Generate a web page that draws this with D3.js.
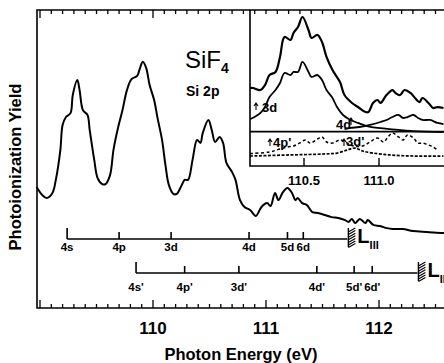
<!DOCTYPE html>
<html>
<head>
<meta charset="utf-8">
<script src="https://cdn.jsdelivr.net/npm/d3@7"></script>
<style>
  body { margin: 0; background: #fff; }
  svg { display: block; }
  text { font-family: 'Liberation Sans', Arial, sans-serif; fill: #000; }
</style>
</head>
<body>
<div id="chart"></div>
<script>
// main spectrum (photon energy in eV, yield in arb. units)
const mainEnergy = [108.97, 109.02, 109.06, 109.11, 109.14, 109.18, 109.20, 109.23, 109.27, 109.29, 109.33, 109.35,
  109.38, 109.42, 109.44, 109.48, 109.51, 109.55, 109.58, 109.62, 109.65, 109.69, 109.73, 109.77, 109.81, 109.86,
  109.88, 109.91, 109.94, 109.97, 110.01, 110.04, 110.08, 110.11, 110.14, 110.18, 110.21, 110.25, 110.28, 110.31,
  110.35, 110.39, 110.42, 110.44, 110.49, 110.52, 110.55, 110.59, 110.62, 110.65, 110.70, 110.73, 110.77, 110.81,
  110.86, 110.91, 110.96, 111.01, 111.04, 111.08, 111.11, 111.15, 111.19, 111.23, 111.26, 111.28, 111.32, 111.36,
  111.41, 111.46, 111.52, 111.58, 111.64, 111.70, 111.73, 111.76, 111.79, 111.83, 111.88, 111.90, 111.95, 112.01,
  112.07, 112.12, 112.21, 112.30, 112.42, 112.56, 112.62];
const mainYield = [40.6, 37.9, 36.9, 38.6, 43.0, 53.0, 61.4, 64.1, 65.4, 71.5, 76.5, 73.2,
  66.4, 64.8, 59.7, 49.7, 43.6, 41.6, 41.6, 44.6, 53.0, 60.4, 66.4, 73.2, 76.8, 77.9,
  79.9, 82.6, 80.5, 74.8, 69.8, 63.8, 56.4, 48.0, 41.3, 38.3, 38.3, 40.9, 43.0, 43.0,
  49.7, 56.4, 55.4, 58.7, 63.1, 59.7, 55.7, 57.4, 55.4, 48.7, 45.6, 43.0, 36.2, 33.9,
  32.9, 30.9, 33.9, 35.2, 34.2, 38.6, 36.2, 38.9, 40.3, 38.6, 36.2, 36.9, 35.2, 34.6,
  32.2, 31.9, 31.2, 30.5, 30.2, 29.5, 28.9, 29.9, 28.5, 29.9, 28.5, 29.5, 27.9, 27.5,
  26.8, 26.5, 26.5, 25.8, 25.5, 25.2, 25.0];

// inset: total yield, 3d and 4d components, dashed curves
const insetTotalEnergy = [110.14, 110.16, 110.21, 110.24, 110.27, 110.31, 110.34, 110.37, 110.41, 110.43, 110.46,
  110.49, 110.53, 110.55, 110.59, 110.62, 110.65, 110.69, 110.74, 110.77, 110.82, 110.86, 110.91, 110.93, 110.96,
  110.99, 111.01, 111.05, 111.09, 111.11, 111.14, 111.17, 111.21, 111.24, 111.27, 111.29, 111.33, 111.36, 111.39, 111.43];
const insetTotalYield = [50.0, 50.0, 48.7, 51.9, 58.3, 60.3, 69.9, 82.7, 80.8, 85.3, 89.1,
  95.5, 87.2, 82.1, 84.0, 79.5, 69.9, 61.5, 53.8, 45.5, 40.4, 37.8, 34.6, 34.6, 40.4,
  42.3, 40.4, 45.5, 48.7, 46.8, 45.5, 48.7, 46.8, 43.6, 41.0, 43.6, 40.4, 37.2, 37.8, 37.2];

const inset3dEnergy = [110.14, 110.17, 110.21, 110.24, 110.27, 110.31, 110.34, 110.37, 110.41, 110.43, 110.46,
  110.49, 110.53, 110.55, 110.59, 110.62, 110.65, 110.69, 110.72, 110.76, 110.81, 110.86, 110.92, 110.99, 111.07,
  111.23, 111.43];
const inset3dYield = [30.1, 31.4, 34.0, 37.8, 44.2, 48.7, 53.2, 59.6, 58.3, 60.3, 60.3,
  66.7, 60.3, 57.1, 58.3, 55.1, 48.7, 43.6, 37.8, 32.7, 29.5, 27.6, 25.6, 24.4, 23.7,
  22.4, 21.8];

const inset4dEnergy = [110.77, 110.81, 110.87, 110.94, 111.01, 111.05, 111.09, 111.13, 111.16, 111.19, 111.23,
  111.26, 111.29, 111.34, 111.39, 111.43];
const inset4dYield = [23.7, 24.4, 25.0, 26.3, 28.2, 29.5, 31.4, 32.7, 30.8, 31.4, 32.7,
  30.8, 29.5, 29.5, 27.6, 26.9];

const insetBaseline = 22.0;

const dashUpperEnergy = [110.14, 110.27, 110.34, 110.39, 110.43, 110.47, 110.51, 110.54, 110.59, 110.62, 110.65,
  110.69, 110.74, 110.79, 110.83, 110.89, 110.94, 110.99, 111.03, 111.06, 111.09, 111.13, 111.16, 111.19, 111.23,
  111.26, 111.29, 111.33, 111.36, 111.39];
const dashUpperYield = [8.0, 9.0, 10.9, 12.2, 12.8, 14.7, 16.7, 14.7, 17.3, 18.6, 15.4,
  14.7, 16.7, 14.7, 12.8, 12.8, 15.4, 17.9, 15.4, 18.6, 21.2, 18.6, 16.7, 19.9, 17.9,
  14.7, 14.7, 13.5, 12.2, 10.3];

const dashLowerEnergy = [110.14, 110.41, 110.63, 110.72, 110.79, 110.84, 110.89, 110.96, 111.07, 111.23, 111.43];
const dashLowerYield = [6.4, 7.1, 7.7, 8.3, 10.3, 11.5, 9.6, 8.3, 7.1, 6.4, 6.4];

// Rydberg series converging to L_III and L_II
const seriesIIILabels = ['4s', '4p', '3d', '4d', '5d', '6d'];
const seriesIIIEnergy = [109.24, 109.70, 110.16, 110.85, 111.19, 111.33];
const limitIII = 111.72;
const seriesIILabels = ["4s'", "4p'", "3d'", "4d'", "5d'", "6d'"];
const seriesIIEnergy = [109.85, 110.28, 110.76, 111.45, 111.78, 111.94];
const limitII = 112.34;

const mainTicks = [110, 111, 112];
const insetTicks = [110.5, 111.0];

const W = 444, H = 363;
const mLeft = 37, mTop = 10, mBottom = 308, mRight = 450;
const insetLeft = 250, insetBottom = 166;

const x = d3.scaleLinear().domain([110, 112]).range([153, 379]);
const y = d3.scaleLinear().domain([0, 100]).range([mBottom, mTop]);
const xi = d3.scaleLinear().domain([110.5, 111.0]).range([304, 379]);
const yi = d3.scaleLinear().domain([0, 100]).range([insetBottom, mTop]);

const svg = d3.select('#chart').append('svg')
  .attr('width', W)
  .attr('height', H);

// main frame
svg.append('path')
  .attr('d', `M${mRight},${mTop}H${mLeft}V${mBottom}H${mRight}`)
  .attr('fill', 'none')
  .attr('stroke', '#000')
  .attr('stroke-width', 1.6);

// minor/major ticks on top and bottom every 0.1 eV
const tickVals = d3.range(1090, 1127).map(v => v / 10);
tickVals.forEach(v => {
  const major = Math.abs(v - Math.round(v)) < 1e-6;
  const xp = x(v);
  if (xp < mLeft + 2) return;
  svg.append('line')
    .attr('x1', xp).attr('x2', xp)
    .attr('y1', mBottom).attr('y2', mBottom - (major ? 8 : 4))
    .attr('stroke', '#000').attr('stroke-width', 1.3);
  svg.append('line')
    .attr('x1', xp).attr('x2', xp)
    .attr('y1', mTop).attr('y2', mTop + (major ? 8 : 4))
    .attr('stroke', '#000').attr('stroke-width', 1.3);
});

svg.selectAll('.xlab')
  .data(mainTicks)
  .join('text')
  .attr('x', d => x(d))
  .attr('y', 334)
  .attr('text-anchor', 'middle')
  .attr('font-size', 17)
  .attr('font-weight', 'bold')
  .text(d => d);

svg.append('text')
  .attr('x', 241)
  .attr('y', 360)
  .attr('text-anchor', 'middle')
  .attr('font-size', 16.5)
  .attr('font-weight', 'bold')
  .text('Photon Energy (eV)');

svg.append('text')
  .attr('transform', 'translate(21,167) rotate(-90)')
  .attr('text-anchor', 'middle')
  .attr('font-size', 16.5)
  .attr('font-weight', 'bold')
  .text('Photoionization Yield');

// main curve
const mainLine = d3.line().x(d => x(d[0])).y(d => y(d[1])).curve(d3.curveCatmullRom.alpha(0.5));
svg.append('path')
  .datum(d3.zip(mainEnergy, mainYield))
  .attr('d', mainLine)
  .attr('fill', 'none')
  .attr('stroke', '#000')
  .attr('stroke-width', 2);

// titles
const title = svg.append('text')
  .attr('x', 185)
  .attr('y', 68)
  .attr('font-size', 24);
title.append('tspan').text('SiF');
title.append('tspan').attr('font-size', 14).attr('font-weight', 'bold').attr('dy', 5).text('4');

svg.append('text')
  .attr('x', 186)
  .attr('y', 96)
  .attr('font-size', 14)
  .attr('font-weight', 'bold')
  .text('Si 2p');

// Rydberg ladders
function ladder(lineY, energies, labels, limit, limitName, labelY) {
  const g = svg.append('g');
  g.append('line')
    .attr('x1', x(energies[0])).attr('x2', x(limit))
    .attr('y1', lineY).attr('y2', lineY)
    .attr('stroke', '#000').attr('stroke-width', 1.4);
  energies.forEach((e, i) => {
    g.append('line')
      .attr('x1', x(e)).attr('x2', x(e))
      .attr('y1', lineY).attr('y2', lineY - (i === 0 ? 11 : 7))
      .attr('stroke', '#000').attr('stroke-width', 1.6);
    g.append('text')
      .attr('x', x(e))
      .attr('y', labelY)
      .attr('text-anchor', 'middle')
      .attr('font-size', 11.5)
      .attr('font-weight', 'bold')
      .text(labels[i]);
  });
  // hatched series limit
  const lx = x(limit);
  g.append('line')
    .attr('x1', lx + 1).attr('x2', lx + 1)
    .attr('y1', lineY - 11).attr('y2', lineY + 8)
    .attr('stroke', '#000').attr('stroke-width', 1.4);
  for (let k = 0; k < 7; k++) {
    g.append('line')
      .attr('x1', lx + 1).attr('x2', lx + 8)
      .attr('y1', lineY - 7 + k * 2.6).attr('y2', lineY - 11 + k * 2.6)
      .attr('stroke', '#000').attr('stroke-width', 1.1);
  }
  const t = g.append('text')
    .attr('x', lx + 10)
    .attr('y', lineY + 4)
    .attr('font-size', 20)
    .attr('font-weight', 'bold');
  t.append('tspan').text('L');
  t.append('tspan').attr('font-size', 11).attr('dy', 6).text(limitName);
}
ladder(239, seriesIIIEnergy, seriesIIILabels, limitIII, 'III', 251);
ladder(273, seriesIIEnergy, seriesIILabels, limitII, 'II', 291);

// inset
const inset = svg.append('g');
inset.append('rect')
  .attr('x', insetLeft).attr('y', mTop + 1)
  .attr('width', mRight - insetLeft).attr('height', insetBottom - mTop - 1)
  .attr('fill', '#fff');
inset.append('path')
  .attr('d', `M${insetLeft},${mTop}V${insetBottom}H${mRight}`)
  .attr('fill', 'none')
  .attr('stroke', '#000')
  .attr('stroke-width', 1.6);
tickVals.forEach(v => {
  const xp = x(v);
  if (xp < insetLeft) return;
  inset.append('line')
    .attr('x1', xp).attr('x2', xp)
    .attr('y1', mTop).attr('y2', mTop + 4)
    .attr('stroke', '#000').attr('stroke-width', 1.3);
});
insetTicks.forEach(v => {
  inset.append('line')
    .attr('x1', xi(v)).attr('x2', xi(v))
    .attr('y1', insetBottom).attr('y2', insetBottom - 8)
    .attr('stroke', '#000').attr('stroke-width', 1.4);
  inset.append('text')
    .attr('x', xi(v))
    .attr('y', 185)
    .attr('text-anchor', 'middle')
    .attr('font-size', 13)
    .attr('font-weight', 'bold')
    .text(v.toFixed(1));
});

const insetLine = d3.line().x(d => xi(d[0])).y(d => yi(d[1])).curve(d3.curveCatmullRom.alpha(0.5));
function insetCurve(es, ys, sw, dash) {
  inset.append('path')
    .datum(d3.zip(es, ys))
    .attr('d', insetLine)
    .attr('fill', 'none')
    .attr('stroke', '#000')
    .attr('stroke-width', sw)
    .attr('stroke-dasharray', dash || null);
}
inset.append('line')
  .attr('x1', insetLeft).attr('x2', mRight)
  .attr('y1', yi(insetBaseline)).attr('y2', yi(insetBaseline))
  .attr('stroke', '#000').attr('stroke-width', 1.7);
insetCurve(insetTotalEnergy, insetTotalYield, 2.2);
insetCurve(inset3dEnergy, inset3dYield, 1.8);
insetCurve(inset4dEnergy, inset4dYield, 1.8);
insetCurve(dashUpperEnergy, dashUpperYield, 1.5, '3,2.5');
insetCurve(dashLowerEnergy, dashLowerYield, 1.7, '3,1.5');

// small arrow labels inside the inset
function arrowLabel(ax, ay, label, tx, ty) {
  inset.append('path')
    .attr('d', `M${ax},${ay + 7}V${ay}M${ax - 2},${ay + 3}L${ax},${ay}L${ax + 2},${ay + 3}`)
    .attr('fill', 'none')
    .attr('stroke', '#000')
    .attr('stroke-width', 1.1);
  if (label) {
    inset.append('text')
      .attr('x', tx)
      .attr('y', ty)
      .attr('font-size', 13)
      .attr('font-weight', 'bold')
      .text(label);
  }
}
arrowLabel(256, 103, '3d', 262, 112);
arrowLabel(351, 118, '', 0, 0);
inset.append('text').attr('x', 336).attr('y', 129).attr('font-size', 13).attr('font-weight', 'bold').text('4d');
arrowLabel(270, 139, "4p'", 273, 147);
arrowLabel(344, 139, "3d'", 346, 146);
</script>
</body>
</html>
